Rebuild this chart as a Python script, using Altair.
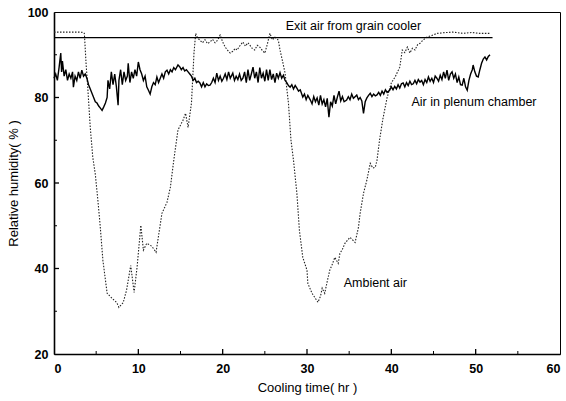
import altair as alt
import pandas as pd

# Ambient air (dotted)
amb_x = [0, 1, 2, 3, 3.5, 3.6, 3.8, 4.0, 4.3, 4.6, 4.9, 5.2, 5.45, 5.8, 6.3, 6.9, 7.45, 7.7, 8.2, 8.6,
         9.1, 9.5, 9.85, 10.3, 10.6, 11.0, 11.6, 12.1, 12.8, 13.4, 13.8, 14.2, 14.7, 15.3, 15.6, 15.9,
         16.3, 16.6, 16.8, 17.0, 17.3, 17.6, 17.9, 18.2, 18.5, 18.8, 19.1, 19.4, 19.7, 20.0, 20.3, 20.6,
         20.9, 21.2, 21.5, 21.7, 22.0, 22.4, 22.7, 23.0, 23.2, 23.5, 23.8, 24.1, 24.4, 24.7, 25.0, 25.3,
         25.6, 25.9, 26.2, 26.6, 26.8, 27.1, 27.4, 27.8, 28.1, 28.4, 28.8, 29.1, 29.5, 30.0, 30.1, 30.6,
         31.0, 31.3, 31.6, 31.8, 32.1, 32.4, 32.7, 33.0, 33.3, 33.7, 33.9, 34.2, 34.5, 35.1, 35.7, 36.1,
         36.3, 36.7, 37.1, 37.5, 37.8, 38.1, 38.3, 38.6, 39.0, 39.5, 40.0, 40.5, 41.0, 41.3, 41.6, 41.9,
         42.2, 42.5, 42.8, 43.1, 43.4, 43.8, 44.2, 44.8, 45.4, 46.5, 47.3, 48.5, 49.5, 50.5, 51.7]
amb_y = [95.3, 95.3, 95.3, 95.3, 95.2, 95.0, 88.0, 82.4, 73.0, 66.0, 62.0, 56.0, 50.6, 41.9, 34.2, 33.0, 32.0, 30.9, 32.0, 34.9,
         40.7, 34.4, 40.3, 50.1, 44.3, 45.9, 45.2, 43.8, 52.9, 55.5, 59.0, 65.3, 72.4, 74.7, 76.3, 73.0,
         78.7, 90.4, 95.0, 94.0, 93.4, 92.8, 93.5, 92.6, 93.0, 93.6, 92.8, 93.4, 94.6, 93.0, 91.8, 91.0,
         90.4, 90.8, 91.5, 91.1, 92.0, 93.0, 92.0, 92.8, 92.3, 91.5, 91.1, 92.2, 91.8, 91.0, 90.4, 92.5,
         95.0, 93.5, 94.1, 93.4, 91.1, 88.5, 85.7, 78.7, 70.0, 65.3, 57.6, 48.9, 42.6, 39.6, 36.5, 34.2,
         33.0, 32.1, 33.5, 35.4, 34.2, 37.0, 39.6, 41.0, 42.6, 41.2, 43.5, 44.5, 45.9, 47.3, 46.1, 49.6,
         52.9, 57.6, 60.7, 64.6, 63.5, 63.7, 65.3, 70.0, 75.0, 80.0, 83.4, 85.0, 87.1, 91.1, 90.5, 91.8,
         90.4, 91.5, 91.1, 92.3, 92.7, 93.5, 94.1, 94.5, 95.0, 95.2, 95.3, 95.0, 95.2, 95.0, 95.0]

# Air in plenum chamber (solid)
pl_x = [0.0, 0.2, 0.4, 0.6, 0.8, 0.9, 1.0, 1.2, 1.4, 1.6, 1.8, 2.0, 2.2, 2.3, 2.5, 2.7, 2.9, 3.1, 3.3, 3.5,
        3.7, 3.9, 4.1, 4.3, 4.5, 4.7, 4.9, 5.1, 5.3, 5.5, 5.7, 5.9, 6.1, 6.3, 6.4, 6.6, 6.8, 7.0, 7.2, 7.4,
        7.6, 7.7, 7.9, 8.1, 8.3, 8.5, 8.7, 8.8, 9.0, 9.2, 9.4, 9.6, 9.8, 10.0, 10.2, 10.4, 10.6, 10.8, 11.0, 11.2,
        11.4, 11.6, 11.8, 12.0, 12.2, 12.4, 12.6, 12.8, 13.0, 13.2, 13.4, 13.6, 13.8, 14.0, 14.2, 14.4, 14.7, 14.9,
        15.1, 15.3, 15.5, 15.7, 15.9, 16.1, 16.3, 16.5, 16.7, 16.9, 17.1, 17.3, 17.5, 17.7, 17.9, 18.1, 18.3, 18.5,
        18.7, 18.9, 19.1, 19.3, 19.5, 19.7, 19.9, 20.1, 20.3, 20.5, 20.7, 20.9, 21.2, 21.4, 21.6, 21.8, 22.0, 22.2,
        22.4, 22.6, 22.8, 23.0, 23.2, 23.4, 23.6, 23.8, 24.0, 24.2, 24.4, 24.6, 24.8, 25.0, 25.2, 25.4, 25.6, 25.8,
        26.0, 26.2, 26.4, 26.6, 26.8, 27.0, 27.2, 27.4, 27.6, 27.8, 28.0, 28.2, 28.4, 28.6, 28.8, 29.0, 29.2, 29.5,
        29.7, 29.9, 30.1, 30.4, 30.6, 30.8, 31.0, 31.2, 31.4, 31.6, 31.8, 32.0, 32.2, 32.4, 32.5, 32.6, 32.8, 33.0,
        33.2, 33.4, 33.6, 33.8, 34.0, 34.2, 34.4, 34.7, 34.9, 35.1, 35.3, 35.5, 35.7, 35.9, 36.1, 36.3, 36.5, 36.7,
        36.9, 37.1, 37.3, 37.5, 37.7, 37.9, 38.1, 38.3, 38.5, 38.7, 38.9, 39.1, 39.3, 39.5, 39.8, 40.0, 40.2, 40.4,
        40.6, 40.8, 41.0, 41.2, 41.4, 41.6, 41.8, 42.0, 42.2, 42.4, 42.6, 42.8, 43.0, 43.2, 43.4, 43.6, 43.8, 44.0,
        44.2, 44.4, 44.6, 44.8, 45.0, 45.2, 45.4, 45.6, 45.8, 46.0, 46.2, 46.4, 46.6, 46.8, 47.0, 47.2, 47.4, 47.6,
        47.8, 48.0, 48.2, 48.4, 48.6, 48.8, 49.0, 49.2, 49.4, 49.6, 49.7, 49.9, 50.1, 50.3, 50.5, 50.7, 50.9, 51.1,
        51.3, 51.5, 51.7]
pl_y = [84.5, 85.5, 84.0, 87.0, 90.4, 86.0, 88.5, 85.0, 86.5, 84.0, 85.5, 84.5, 86.0, 82.4, 85.0, 84.0, 86.0, 84.5, 86.4, 85.0,
        85.5, 84.5, 83.0, 82.0, 81.0, 80.0, 79.0, 78.7, 78.0, 77.5, 77.0, 77.8, 78.7, 80.0, 84.0, 82.0, 86.0, 83.0, 85.5, 82.5,
        78.2, 84.0, 86.5, 83.0, 86.0, 84.0, 85.0, 88.0, 83.5, 86.0, 84.5, 86.5, 85.0, 88.3, 86.5, 85.5, 84.0, 85.0, 82.5, 81.7,
        80.8, 82.5, 83.5, 83.0, 84.8, 83.5, 84.5, 85.5, 84.5, 86.0, 86.4, 85.5, 86.5, 86.0, 87.0, 86.5, 87.6, 87.2,
        86.5, 87.0, 86.2, 86.5, 86.0, 85.5, 85.0, 84.0, 84.5, 83.5, 83.8, 83.4, 82.5, 83.5, 82.5, 83.2, 82.8, 82.9,
        83.5, 84.5, 83.5, 85.7, 84.0, 85.0, 83.8, 84.5, 85.5, 84.2, 86.0, 84.5, 85.7, 84.0, 85.0, 84.2, 85.5, 84.0,
        84.5, 86.0, 83.5, 86.5, 84.0, 85.5, 87.1, 84.5, 86.0, 83.5, 87.0, 84.5, 85.7, 83.8, 86.5, 84.0, 86.5, 84.2,
        85.5, 83.5, 85.7, 84.5, 85.8, 84.5, 85.2, 84.0, 83.5, 82.8, 82.4, 83.0, 82.0, 82.8, 82.2, 81.5, 81.8, 80.1,
        80.8, 79.5, 80.5, 79.4, 78.5, 80.2, 79.0, 79.9, 78.2, 80.5, 78.5, 79.5, 77.8, 79.8, 77.5, 75.4, 79.0, 78.0,
        80.5, 78.5, 80.1, 81.5, 79.2, 80.2, 79.0, 79.4, 80.2, 79.5, 80.8, 79.8, 80.2, 80.6, 79.5, 80.0, 79.2, 76.3,
        79.0, 79.9, 80.5, 81.0, 80.2, 80.8, 80.4, 80.6, 81.2, 80.5, 81.5, 80.8, 81.8, 81.2, 81.7, 82.5, 81.8, 82.6,
        82.0, 83.0, 82.2, 83.2, 83.4, 82.5, 83.5, 82.8, 83.8, 83.0, 83.2, 84.0, 83.2, 84.2, 83.6, 84.0, 83.0, 84.2,
        83.5, 84.8, 83.8, 84.5, 83.5, 85.0, 84.5, 83.8, 85.2, 84.2, 86.0, 84.5, 86.4, 84.0, 85.5, 86.0, 84.5, 85.5,
        83.5, 84.8, 83.0, 82.9, 84.5, 82.5, 81.7, 84.0, 85.5, 86.5, 87.6, 86.0, 85.0, 84.8, 86.5, 88.0, 89.0, 89.5,
        88.8, 89.6, 90.0]

# Exit air from grain cooler (flat)
exit_x = [0, 52]
exit_y = [94, 94]

labels_text = ["Exit air from grain cooler", "Air in plenum chamber", "Ambient air"]
labels_x = [35.5, 49.8, 38.1]
labels_y = [96.7, 78.9, 36.5]

x_major = [0, 10, 20, 30, 40, 50, 60]
x_minor = [5, 15, 25, 35, 45, 55]
y_major = [20, 40, 60, 80, 100]
y_minor = [30, 50, 70, 90]

df_amb = pd.DataFrame({"t": amb_x, "rh": amb_y})
df_pl = pd.DataFrame({"t": pl_x, "rh": pl_y})
df_exit = pd.DataFrame({"t": exit_x, "rh": exit_y})
df_lab = pd.DataFrame({"t": labels_x, "rh": labels_y, "txt": labels_text})
df_xmaj = pd.DataFrame({"t": x_major[1:-1]})
df_xmin = pd.DataFrame({"t": x_minor})
df_ymaj = pd.DataFrame({"rh": y_major[1:-1]})
df_ymin = pd.DataFrame({"rh": y_minor})

W, H = 506, 342
FONT = "Liberation Sans"
xs = alt.Scale(domain=[0, 60], nice=False)
ys = alt.Scale(domain=[20, 100], nice=False)

X = alt.X("t:Q", scale=xs)
Y = alt.Y("rh:Q", scale=ys)

ambient = alt.Chart(df_amb).mark_line(
    color="#222222", strokeWidth=1.1, strokeDash=[1.5, 1.5]
).encode(
    x=alt.X("t:Q", scale=xs, axis=alt.Axis(
        orient="bottom", values=x_major, format="d", ticks=False, grid=False,
        labelFont=FONT, labelFontSize=12.5, labelFontWeight="bold", labelColor="black",
        labelPadding=8, domainColor="black", domainWidth=1.6,
        title="Cooling time( hr )", titleFont=FONT, titleFontSize=13, titleFontWeight="normal",
        titleColor="black", titlePadding=7)),
    y=alt.Y("rh:Q", scale=ys, axis=alt.Axis(
        orient="left", values=y_major, format="d", ticks=False, grid=False,
        labelFont=FONT, labelFontSize=12.5, labelFontWeight="bold", labelColor="black",
        labelPadding=6, domainColor="black", domainWidth=1.6,
        title="Relative humidity( % )", titleFont=FONT, titleFontSize=13, titleFontWeight="normal",
        titleColor="black", titlePadding=7)),
)

plenum = alt.Chart(df_pl).mark_line(color="black", strokeWidth=1.4).encode(x=X, y=Y)

exitl = alt.Chart(df_exit).mark_line(color="black", strokeWidth=1.4).encode(x=X, y=Y)

# inward tick marks (positions from the scales, lengths in pixels)
xmaj = alt.Chart(df_xmaj).mark_rule(color="black", strokeWidth=1.3).encode(
    x=X, y=alt.value(H), y2=alt.value(H - 5))
xmin = alt.Chart(df_xmin).mark_rule(color="black", strokeWidth=1).encode(
    x=X, y=alt.value(H), y2=alt.value(H - 3))
ymaj = alt.Chart(df_ymaj).mark_rule(color="black", strokeWidth=1.3).encode(
    y=Y, x=alt.value(0), x2=alt.value(5))
ymin = alt.Chart(df_ymin).mark_rule(color="black", strokeWidth=1).encode(
    y=Y, x=alt.value(0), x2=alt.value(3))

text = alt.Chart(df_lab).mark_text(
    font=FONT, fontSize=12.5, color="black", align="center", baseline="middle"
).encode(x=X, y=Y, text="txt:N")

chart = alt.layer(ambient, plenum, exitl, xmaj, xmin, ymaj, ymin, text).properties(
    width=W, height=H,
    autosize=alt.AutoSizeParams(type="none"),
    padding={"left": 54, "top": 12, "right": 6, "bottom": 47},
    background="white",
).configure_view(stroke="black", strokeWidth=1)

chart.save("out.html", embed_options={"renderer": "svg", "actions": False})
